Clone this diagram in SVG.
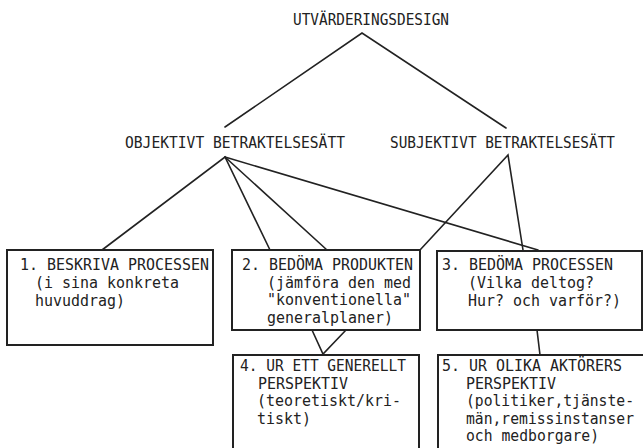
<svg xmlns="http://www.w3.org/2000/svg" width="643" height="448" viewBox="0 0 643 448">
<style>
.bg{fill:#ffffff}
.box{fill:none;stroke:#222;stroke-width:2}
.ln{stroke:#222;stroke-width:1.6;fill:none;stroke-linecap:round}
.lbl{font-family:"DejaVu Sans Mono","Liberation Mono",monospace;font-size:15px;fill:#222}
.t{font-family:"DejaVu Sans Mono","Liberation Mono",monospace;font-size:15px;fill:#222}
</style>
<rect class="bg" x="0" y="0" width="643" height="448"/>
<g id="connectors">
<path class="ln" d="M225,127 L362,33 L506,128"/>
<path class="ln" d="M102,250 L225,157 L270,250"/>
<path class="ln" d="M225,157 L327,250"/>
<path class="ln" d="M225,157 L538,250"/>
<path class="ln" d="M420,250 L508,155 L523,250"/>
<path class="ln" d="M312,330 L323,354 L346,330"/>
<path class="ln" d="M537,330 L540,355"/>
</g>
<g id="utvarderingsdesign"><text class="lbl" x="293" y="25" textLength="156" lengthAdjust="spacingAndGlyphs">UTVÄRDERINGSDESIGN</text></g>
<g id="objektivt"><text class="lbl" x="125" y="148" textLength="220" lengthAdjust="spacingAndGlyphs">OBJEKTIVT BETRAKTELSESÄTT</text></g>
<g id="subjektivt"><text class="lbl" x="390" y="148" textLength="225" lengthAdjust="spacingAndGlyphs">SUBJEKTIVT BETRAKTELSESÄTT</text></g>
<g id="box1">
<rect class="box" x="7" y="250" width="206" height="95"/>
<text class="t" x="20" y="270" textLength="189" lengthAdjust="spacingAndGlyphs">1. BESKRIVA PROCESSEN</text>
<text class="t" x="35" y="288" textLength="144" lengthAdjust="spacingAndGlyphs">(i sina konkreta</text>
<text class="t" x="35" y="306" textLength="90" lengthAdjust="spacingAndGlyphs">huvuddrag)</text>
</g>
<g id="box2">
<rect class="box" x="232" y="250" width="188" height="80"/>
<text class="t" x="242" y="270" textLength="171" lengthAdjust="spacingAndGlyphs">2. BEDÖMA PRODUKTEN</text>
<text class="t" x="267" y="287.5" textLength="144" lengthAdjust="spacingAndGlyphs">(jämföra den med</text>
<text class="t" x="267" y="305" textLength="144" lengthAdjust="spacingAndGlyphs">"konventionella"</text>
<text class="t" x="267" y="322.5" textLength="126" lengthAdjust="spacingAndGlyphs">generalplaner)</text>
</g>
<g id="box3">
<rect class="box" x="437" y="251" width="205" height="79"/>
<text class="t" x="442" y="270" textLength="171" lengthAdjust="spacingAndGlyphs">3. BEDÖMA PROCESSEN</text>
<text class="t" x="468" y="288" textLength="126" lengthAdjust="spacingAndGlyphs">(Vilka deltog?</text>
<text class="t" x="468" y="306" textLength="153" lengthAdjust="spacingAndGlyphs">Hur? och varför?)</text>
</g>
<g id="box4">
<rect class="box" x="233" y="355" width="186" height="100"/>
<text class="t" x="240" y="371" textLength="166" lengthAdjust="spacingAndGlyphs">4. UR ETT GENERELLT</text>
<text class="t" x="258" y="388.5" textLength="90" lengthAdjust="spacingAndGlyphs">PERSPEKTIV</text>
<text class="t" x="257" y="406" textLength="144" lengthAdjust="spacingAndGlyphs">(teoretiskt/kri-</text>
<text class="t" x="257" y="423.5" textLength="54" lengthAdjust="spacingAndGlyphs">tiskt)</text>
</g>
<g id="box5">
<rect class="box" x="438" y="355" width="212" height="100"/>
<text class="t" x="442" y="371" textLength="180" lengthAdjust="spacingAndGlyphs">5. UR OLIKA AKTÖRERS</text>
<text class="t" x="466" y="388.5" textLength="90" lengthAdjust="spacingAndGlyphs">PERSPEKTIV</text>
<text class="t" x="466" y="406" textLength="168" lengthAdjust="spacingAndGlyphs">(politiker,tjänste-</text>
<text class="t" x="466" y="423.5" textLength="168" lengthAdjust="spacingAndGlyphs">män,remissinstanser</text>
<text class="t" x="466" y="441" textLength="133" lengthAdjust="spacingAndGlyphs">och medborgare)</text>
</g>
</svg>
